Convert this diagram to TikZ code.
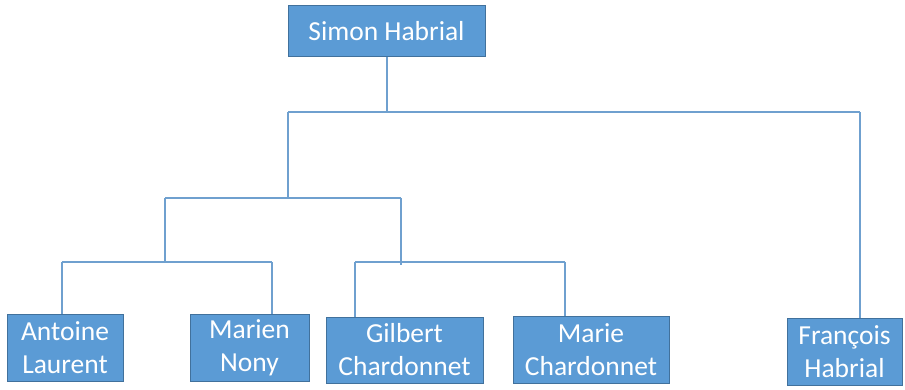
\documentclass[tikz,border=0pt]{standalone}
\usepackage{fontspec}
\setmainfont{Carlito}
\definecolor{boxfill}{HTML}{5B9BD5}
\definecolor{boxdraw}{HTML}{41719C}
\definecolor{linec}{HTML}{6FA0CF}
\begin{document}
\begin{tikzpicture}[x=1pt,y=-1pt,
  person/.style={draw=boxdraw,line width=1pt,fill=boxfill,text=white,align=center,
    inner sep=0pt,font=\fontsize{27.5}{33}\selectfont},
  conn/.style={draw=linec,line width=1.3pt}]
\useasboundingbox (0,0) rectangle (905,390);
\node[person,minimum width=197pt,minimum height=51pt] (simon) at (386.5,31.5) {Simon Habrial};
\node[person,minimum width=116pt,minimum height=67pt] (antoine) at (65,347.5) {Antoine\\Laurent};
\node[person,minimum width=119pt,minimum height=67pt] (marien) at (249.5,347.5) {Marien\\Nony};
\node[person,minimum width=157pt,minimum height=66pt] (gilbert) at (404.5,350) {Gilbert\\Chardonnet};
\node[person,minimum width=156pt,minimum height=67pt] (marie) at (591,349.5) {Marie\\Chardonnet};
\node[person,minimum width=115pt,minimum height=67pt] (francois) at (844.5,351.5) {François\\Habrial};
\coordinate (j) at (387,112);
\coordinate (a1) at (288,112);
\coordinate (a2) at (860,112);
\coordinate (b0) at (288,198);
\coordinate (b1) at (165,198);
\coordinate (b2) at (401,198);
\coordinate (b3) at (401,265);
\coordinate (c0) at (165,262);
\coordinate (c1) at (62,262);
\coordinate (c2) at (272,262);
\coordinate (d1) at (355,262);
\coordinate (d2) at (565,262);
\draw[conn] (j |- simon.south) -- (j);
\draw[conn] (a1) -- (a2);
\draw[conn] (a1) -- (b0);
\draw[conn] (b1) -- (b2);
\draw[conn] (b1) -- (c0);
\draw[conn] (b2) -- (b3);
\draw[conn] (c1) -- (c2);
\draw[conn] (c1) -- (c1 |- antoine.north);
\draw[conn] (c2) -- (c2 |- marien.north);
\draw[conn] (d1) -- (d2);
\draw[conn] (d1) -- (d1 |- gilbert.north);
\draw[conn] (d2) -- (d2 |- marie.north);
\draw[conn] (a2) -- (a2 |- francois.north);
\end{tikzpicture}
\end{document}
